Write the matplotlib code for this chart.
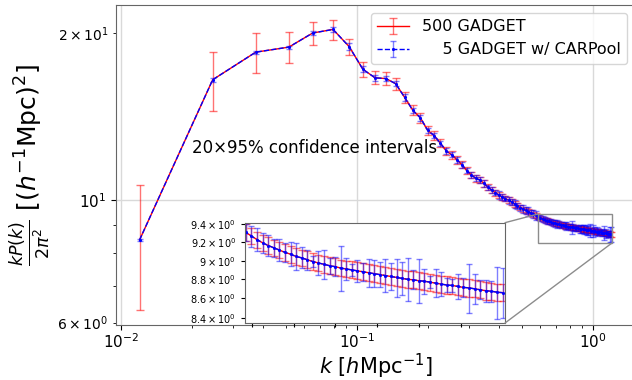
import matplotlib
matplotlib.use('Agg')
import matplotlib.pyplot as plt
from matplotlib.patches import Rectangle, ConnectionPatch
from matplotlib.ticker import FixedLocator, FixedFormatter, NullLocator, NullFormatter

# ---------------- data ----------------
k = [0.0120, 0.0245, 0.0373, 0.0515, 0.0650, 0.0793, 0.0928, 0.1061, 0.1195, 0.1328,
     0.1461, 0.1595, 0.1728, 0.1861, 0.1995, 0.2128, 0.2261, 0.2394, 0.2528, 0.2661,
     0.2794, 0.2928, 0.3061, 0.3194, 0.3328, 0.3461, 0.3594, 0.3727, 0.3861, 0.3994,
     0.4127, 0.4261, 0.4394, 0.4527, 0.4661, 0.4794, 0.4927, 0.5060, 0.5194, 0.5327,
     0.5460, 0.5594, 0.5727, 0.5860, 0.5993, 0.6127, 0.6260, 0.6393, 0.6527, 0.6660,
     0.6793, 0.6927, 0.7060, 0.7193, 0.7326, 0.7460, 0.7593, 0.7726, 0.7860, 0.7993,
     0.8126, 0.8259, 0.8393, 0.8526, 0.8659, 0.8793, 0.8926, 0.9059, 0.9192, 0.9326,
     0.9459, 0.9592, 0.9726, 0.9859, 0.9992, 1.0125, 1.0259, 1.0392, 1.0525, 1.0659,
     1.0792, 1.0925, 1.1058, 1.1192, 1.1325, 1.1458, 1.1592, 1.1725, 1.1858, 1.1992]

pk_gadget = [8.46, 16.47, 18.47, 18.86, 20.00, 20.30, 18.90, 17.20, 16.60, 16.55,
             16.20, 15.30, 14.50, 14.05, 13.35, 13.05, 12.65, 12.25, 12.05, 11.80,
             11.56, 11.28, 11.08, 10.93, 10.85, 10.70, 10.54, 10.41, 10.30, 10.20,
             10.12, 10.05, 9.98, 9.90, 9.82, 9.75, 9.68, 9.62, 9.57, 9.52,
             9.47, 9.42, 9.37, 9.31, 9.27, 9.23, 9.195, 9.165, 9.14, 9.115,
             9.09, 9.07, 9.045, 9.03, 9.01, 8.99, 8.975, 8.96, 8.945, 8.935,
             8.92, 8.91, 8.90, 8.89, 8.88, 8.87, 8.86, 8.85, 8.84, 8.83,
             8.82, 8.81, 8.80, 8.795, 8.785, 8.78, 8.77, 8.76, 8.75, 8.74,
             8.735, 8.725, 8.715, 8.71, 8.70, 8.69, 8.68, 8.675, 8.665, 8.66]

err_gadget = [2.15, 2.00, 1.50, 1.20, 0.97, 0.85, 0.63, 0.54, 0.45, 0.45,
              0.40, 0.34, 0.30, 0.27, 0.25, 0.23, 0.21, 0.20, 0.19, 0.18,
              0.17, 0.16, 0.155, 0.15, 0.145, 0.14, 0.135, 0.13, 0.13, 0.125,
              0.12, 0.12, 0.115, 0.11, 0.11, 0.105, 0.105, 0.10, 0.10, 0.10,
              0.095, 0.095, 0.095, 0.09, 0.09, 0.09, 0.091, 0.09, 0.089, 0.09,
              0.09, 0.091, 0.09, 0.089, 0.09, 0.09, 0.091, 0.09, 0.09, 0.089,
              0.09, 0.09, 0.091, 0.09, 0.089, 0.09, 0.09, 0.09, 0.091, 0.09,
              0.089, 0.09, 0.09, 0.09, 0.091, 0.09, 0.089, 0.09, 0.09, 0.09,
              0.091, 0.09, 0.089, 0.09, 0.09, 0.09, 0.091, 0.09, 0.089, 0.09]

pk_carpool = [8.46, 16.47, 18.47, 18.86, 20.00, 20.30, 18.90, 17.20, 16.60, 16.55,
              16.20, 15.30, 14.50, 14.05, 13.35, 13.05, 12.65, 12.25, 12.05, 11.80,
              11.56, 11.28, 11.08, 10.93, 10.85, 10.70, 10.54, 10.41, 10.30, 10.20,
              10.12, 10.05, 9.98, 9.90, 9.82, 9.75, 9.68, 9.62, 9.57, 9.52,
              9.47, 9.42, 9.37, 9.31, 9.27, 9.23, 9.195, 9.165, 9.14, 9.115,
              9.09, 9.07, 9.045, 9.03, 9.01, 8.99, 8.975, 8.96, 8.945, 8.935,
              8.92, 8.91, 8.90, 8.89, 8.88, 8.87, 8.86, 8.85, 8.84, 8.83,
              8.82, 8.81, 8.80, 8.795, 8.785, 8.78, 8.77, 8.76, 8.75, 8.74,
              8.735, 8.725, 8.715, 8.71, 8.70, 8.69, 8.68, 8.675, 8.665, 8.66]

err_carpool = [0.05, 0.15, 0.12, 0.12, 0.15, 0.20, 0.25, 0.22, 0.20, 0.20,
               0.18, 0.20, 0.17, 0.15, 0.15, 0.14, 0.13, 0.15, 0.12, 0.14,
               0.13, 0.12, 0.15, 0.13, 0.12, 0.14, 0.11, 0.13, 0.12, 0.15,
               0.13, 0.11, 0.14, 0.12, 0.16, 0.13, 0.12, 0.15, 0.14, 0.17,
               0.13, 0.15, 0.16, 0.09, 0.116, 0.125, 0.11, 0.116, 0.098, 0.12,
               0.107, 0.13, 0.146, 0.114, 0.107, 0.057, 0.125, 0.155, 0.084, 0.10,
               0.244, 0.114, 0.066, 0.116, 0.094, 0.146, 0.143, 0.134, 0.176, 0.143,
               0.20, 0.17, 0.228, 0.10, 0.23, 0.13, 0.066, 0.15, 0.125, 0.077,
               0.066, 0.134, 0.10, 0.255, 0.16, 0.10, 0.116, 0.107, 0.27, 0.26]

label_gadget = '500 GADGET'
label_carpool = '    5 GADGET w/ CARPool'
annotation = '20\u00d795% confidence intervals'

inset_xlim = (0.584, 1.205)
inset_ylim = (8.35, 9.42)
inset_xticks = [0.6, 0.7, 0.8, 0.9, 1.0, 1.1]
inset_yticks = [8.4, 8.6, 8.8, 9.0, 9.2, 9.4]
inset_yticklabels = [r'$\mathdefault{8.4\times10^{0}}$', r'$\mathdefault{8.6\times10^{0}}$',
                     r'$\mathdefault{8.8\times10^{0}}$', r'$\mathdefault{9\times10^{0}}$',
                     r'$\mathdefault{9.2\times10^{0}}$', r'$\mathdefault{9.4\times10^{0}}$']

# ---------------- figure ----------------
fig = plt.figure(figsize=(6.32, 3.80), dpi=100)
ax = fig.add_axes([0.1835, 0.1447, 0.8212, 0.8421])


def draw(a, with_labels=True):
    a.errorbar(k, pk_gadget, yerr=err_gadget, color='red', ecolor=(1, 0, 0, 0.55),
               lw=1, elinewidth=1, capsize=3, capthick=1,
               label=label_gadget if with_labels else None)
    a.errorbar(k, pk_carpool, yerr=err_carpool, color='blue', ls='--', lw=1,
               ecolor=(0, 0, 1, 0.5), elinewidth=1, capsize=2.5, capthick=1,
               marker='.', ms=2.5, label=label_carpool if with_labels else None)


draw(ax)
ax.set_xscale('log')
ax.set_yscale('log')
ax.grid(True, which='major', color='0.85', lw=1)
ax.set_axisbelow(True)
for s in ax.spines.values():
    s.set_color('0.4')
ax.tick_params(axis='both', which='major', labelsize=11)
ax.tick_params(axis='x', which='major', pad=1.5)
ax.tick_params(axis='y', which='minor', labelsize=10)
ax.set_xlabel(r'$k$ [$h$Mpc$^{-1}$]', fontsize=15, labelpad=1)
ax.set_ylabel(r'$\frac{kP(k)}{2\pi^2}\ [(h^{-1}\mathrm{Mpc})^2]$', fontsize=18)
ax.text(0.02, 12.4, annotation, fontsize=12, va='center', ha='left')
ax.legend(loc='upper right', fontsize=11.5)

# ---------------- inset ----------------
axins = fig.add_axes([0.3877, 0.15, 0.4114, 0.264])
draw(axins, with_labels=False)
axins.set_yscale('log')
axins.set_xlim(*inset_xlim)
axins.set_ylim(*inset_ylim)
axins.yaxis.set_major_locator(FixedLocator(inset_yticks))
axins.yaxis.set_major_formatter(FixedFormatter(inset_yticklabels))
axins.yaxis.set_minor_locator(NullLocator())
axins.yaxis.set_minor_formatter(NullFormatter())
axins.set_xticks(inset_xticks)
axins.set_xticklabels([])
axins.tick_params(labelsize=7, length=3)
for s in axins.spines.values():
    s.set_color('0.4')

x0, x1 = inset_xlim
y0, y1 = inset_ylim
rect = Rectangle((x0, y0), x1 - x0, y1 - y0, fill=False, edgecolor='0.55', lw=1, zorder=5)
ax.add_patch(rect)
for xyA, xyB in [((1, 1), (x0, y1)), ((1, 0), (x1, y0))]:
    cp = ConnectionPatch(xyA=xyA, coordsA=axins.transAxes, xyB=xyB, coordsB=ax.transData,
                         color='0.55', lw=1)
    fig.add_artist(cp)

fig.savefig('out.png', dpi=100)
